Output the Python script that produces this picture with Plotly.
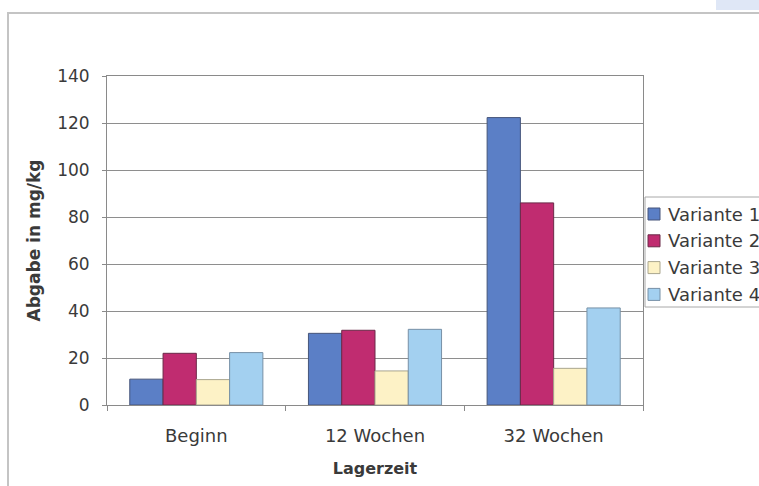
import plotly.graph_objects as go

# Release values (mg/kg) per storage time and variant
categories = ["Beginn", "12 Wochen", "32 Wochen"]
series_names = ["Variante 1", "Variante 2", "Variante 3", "Variante 4"]
variante_1 = [11, 30.5, 122.3]
variante_2 = [22, 31.8, 86]
variante_3 = [10.8, 14.5, 15.6]
variante_4 = [22.3, 32.2, 41.3]
y_ticks = [0, 20, 40, 60, 80, 100, 120, 140]

values = [variante_1, variante_2, variante_3, variante_4]
colors = ["#5b7fc6", "#c02c70", "#fdf2c6", "#a3d0f0"]
outlines = ["#46557a", "#6a2a48", "#a9a58e", "#7790a6"]

FONT = "DejaVu Sans, Liberation Sans, sans-serif"
TEXT = "#3a3a3a"

fig = go.Figure()
for name, vals, col, oc in zip(series_names, values, colors, outlines):
    fig.add_trace(go.Bar(
        x=categories, y=vals, name=name,
        marker=dict(color=col, line=dict(color=oc, width=1)),
    ))

# Plot area spans pixel x 107..643, y 76..405
L, R, T, B = 107, 116, 76, 81
W, H = 759, 486
pw, ph = W - L - R, H - T - B


def px_x(x):
    return (x - L) / pw


def px_y(y):
    return (H - B - y) / ph


shapes = [
    # outer chart frame
    dict(type="rect", xref="paper", yref="paper",
         x0=px_x(8), x1=px_x(775), y0=px_y(13), y1=px_y(500),
         line=dict(color="#c4c4c4", width=2), fillcolor="rgba(0,0,0,0)", layer="below"),
    # light blue corner patch
    dict(type="rect", xref="paper", yref="paper",
         x0=px_x(716), x1=px_x(760), y0=px_y(0), y1=px_y(10),
         line=dict(width=0), fillcolor="#dfe7f6", layer="below"),
    # legend box
    dict(type="rect", xref="paper", yref="paper",
         x0=px_x(645), x1=px_x(790), y0=px_y(197), y1=px_y(307),
         line=dict(color="#a8a8a8", width=1), fillcolor="white", layer="above"),
]
annotations = []

# legend entries: colour swatch + series name
row0, row_step = 214, 26.8
for i, (name, col, oc) in enumerate(zip(series_names, colors, outlines)):
    cy = row0 + i * row_step
    shapes.append(dict(type="rect", xref="paper", yref="paper",
                       x0=px_x(648), x1=px_x(660), y0=px_y(cy - 6), y1=px_y(cy + 6),
                       line=dict(color=oc, width=1), fillcolor=col, layer="above"))
    annotations.append(dict(xref="paper", yref="paper", x=px_x(666), y=px_y(cy),
                            xanchor="left", yanchor="middle", showarrow=False,
                            text=name, font=dict(family=FONT, size=18, color=TEXT)))

fig.update_layout(
    width=W, height=H,
    margin=dict(l=L, r=R, t=T, b=B, autoexpand=False),
    paper_bgcolor="white", plot_bgcolor="white",
    barmode="group", bargap=0.255, bargroupgap=0,
    font=dict(family=FONT, color=TEXT, size=13),
    showlegend=False,
    xaxis=dict(
        type="category",
        showline=True, linecolor="#8a8a8a", linewidth=1, mirror=True,
        ticks="outside", tickson="boundaries", ticklen=5, tickcolor="#8a8a8a",
        ticklabelstandoff=14,
        tickfont=dict(family=FONT, size=18, color=TEXT),
        title=dict(text="<b>Lagerzeit</b>", font=dict(family=FONT, size=16, color=TEXT), standoff=18),
    ),
    yaxis=dict(
        range=[0, 140], tickvals=y_ticks,
        showline=True, linecolor="#8a8a8a", linewidth=1, mirror=True,
        showgrid=True, gridcolor="#8e8e8e", gridwidth=1,
        ticks="outside", ticklen=4, tickcolor="#8a8a8a",
        ticklabelstandoff=9,
        tickfont=dict(family=FONT, size=17, color=TEXT),
        title=dict(text="<b>Abgabe in mg/kg</b>", font=dict(family=FONT, size=17, color=TEXT), standoff=12),
        zeroline=False,
    ),
    shapes=shapes,
    annotations=annotations,
)

fig.write_html("out.html")
